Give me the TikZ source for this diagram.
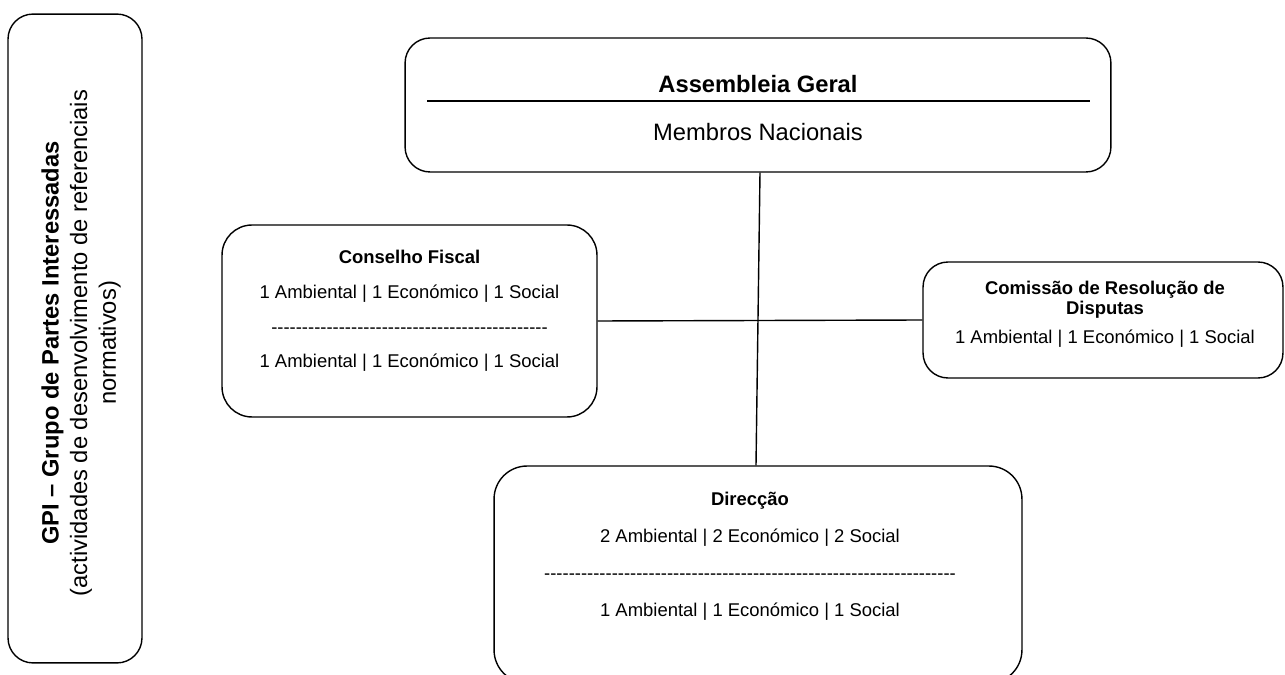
\documentclass[tikz,border=0pt]{standalone}
\usepackage{fontspec}
\setmainfont{Liberation Sans}
\usetikzlibrary{positioning}
\newcommand\dashrow[1]{\foreach \k in {1,...,#1}{-\kern0pt}}

\begin{document}
\begin{tikzpicture}[x=0.02cm,y=-0.02cm,line width=0.8pt,
  box/.style={draw,rounded corners=#1,inner sep=0pt},box/.default=0.5cm,
  big/.style={font=\fontsize{13.5}{#1}\selectfont},big/.default=15.4,
  small/.style={font=\fontsize{10.5}{#1}\selectfont},small/.default=19.9]
\useasboundingbox (0,0) rectangle (1285,675);
\node [box,minimum width=2.68cm,minimum height=12.98cm](gpi) at (75,338.5) {};
\node [big=16.3,rotate=90,align=center] (gpitext) at (81,343) {\textbf{GPI – Grupo de Partes Interessadas}\\(actividades de desenvolvimento de referenciais\\normativos)};
\node [box,minimum width=14.12cm,minimum height=2.68cm](assembly) at (758,105) {};
\node [big,anchor=base] (agtitle) at (758,93) {\textbf{Assembleia Geral}};
\node [big,anchor=base] (agmembers) at (758,141) {Membros Nacionais};
\draw[line width=1.1pt] ([shift={(0.46cm,0.08cm)}]assembly.west) -- ([shift={(-0.44cm,0.08cm)}]assembly.east);
\node [box=0.6cm,minimum width=7.5cm,minimum height=3.84cm](fiscal) at (409.5,321) {};
\node [small,anchor=base,align=center] (fiscaltext) at (409.5,368) {\textbf{Conselho Fiscal}\\1 Ambiental | 1 Económico | 1 Social\\\dashrow{45}\\1 Ambiental | 1 Económico | 1 Social};
\node [box,minimum width=7.2cm,minimum height=2.32cm](disputes) at (1103,320) {};
\node [small=11.3,anchor=base,align=center] (disputestext) at (1105,344) {\textbf{Comissão de Resolução de}\\\textbf{Disputas}\\[0.2cm]1 Ambiental | 1 Económico | 1 Social};
\node [box=0.66cm,minimum width=10.56cm,minimum height=4.34cm](direction) at (758,574.5) {};
\node [small=21,anchor=base,align=center] (directiontext) at (750,616) {\textbf{Direcção}\\2 Ambiental | 2 Económico | 2 Social\\\dashrow{67}\\1 Ambiental | 1 Económico | 1 Social};
\draw ([xshift=0.04cm]assembly.south) -- ([xshift=-0.04cm]direction.north);
\draw (fiscal.east) -- (disputes.west);
\end{tikzpicture}
\end{document}
